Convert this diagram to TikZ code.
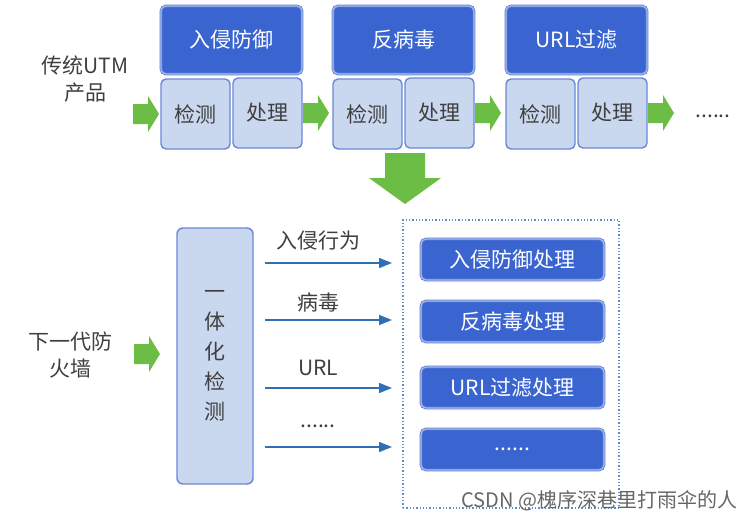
\documentclass[tikz,border=0pt]{standalone}
\usepackage{fontspec}
\setmainfont{Noto Sans CJK SC}
\usetikzlibrary{calc,arrows.meta}
\definecolor{hdblue}{HTML}{3A64CF}
\definecolor{hdedge}{HTML}{5A7BD3}
\definecolor{hdring}{HTML}{A7BAEA}
\definecolor{ltfill}{HTML}{C9D8EE}
\definecolor{ltedge}{HTML}{6A87D6}
\definecolor{grn}{HTML}{6BBD45}
\definecolor{arblue}{HTML}{2F6FB5}
\definecolor{txt}{HTML}{3F3F3F}
\tikzset{
  x=1pt,y=-1pt,
  every node/.style={inner sep=0pt,outer sep=0pt},
  hdbox/.style={draw=hdedge,double=hdring,double distance=1.2pt,line width=0.8pt,fill=hdblue,rounded corners=5pt,text=white,font=\fontsize{21}{24}\selectfont,minimum width=#1,minimum height=68pt},
  hdbox/.default=141pt,
  ltbox/.style={draw=ltedge,line width=1.4pt,fill=ltfill,rounded corners=5pt,text=txt,font=\fontsize{21}{24}\selectfont,minimum width=69pt,minimum height=70pt},
  vbox/.style={draw=ltedge,line width=1.4pt,fill=ltfill,rounded corners=6pt,text=txt,font=\fontsize{21}{24}\selectfont,minimum width=76pt,minimum height=256pt},
  pbox/.style={draw=hdedge,double=hdring,double distance=1.2pt,line width=0.8pt,fill=hdblue,rounded corners=5pt,text=white,font=\fontsize{21}{24}\selectfont,minimum width=183pt,minimum height=41pt},
  lbl/.style={text=txt,font=\fontsize{21}{27}\selectfont,align=center},
  vlbl/.style={text=txt,font=\fontsize{21}{30}\selectfont,align=center},
  barrow/.style={draw=arblue,line width=1.5pt,-{Triangle[length=13pt,width=10pt]}},
  cont/.style={draw=arblue!80,dotted,line width=1.3pt,minimum width=216pt,minimum height=288pt},
  garrowR/.pic={\fill[grn] (0,-10) -- (15,-10) -- (15,-18) -- (26,0) -- (15,18) -- (15,10) -- (0,10) -- cycle;},
  garrowD/.pic={\fill[grn] (-20,0) -- (20,0) -- (20,25) -- (36,25) -- (0,51) -- (-36,25) -- (-20,25) -- cycle;}
}
\begin{document}
\begin{tikzpicture}
\useasboundingbox (0,0) rectangle (752,522);
% top row
\node[lbl] (utm) at (85,79) {传统UTM\\产品};
\foreach \i/\x/\t in {1/161/入侵防御,2/333/反病毒,3/506/URL过滤}{
  \node[hdbox,anchor=north west] (h\i) at (\x,6) {\t};
  \node[ltbox,anchor=north west] (d\i) at (\x,79) {检测};
  \node[ltbox,anchor=north east] (p\i) at ($(h\i.south east)+(0,4)$) {处理};
}
\node[lbl] (dots) at (713,116) {......};
\pic at ($(d1.west)+(-28,0)$) {garrowR};
\pic at ($(p1.east)+(1,0)$) {garrowR};
\pic at ($(p2.east)+(1,0)$) {garrowR};
\pic at ($(p3.east)+(1,0)$) {garrowR};
% down arrow
\coordinate (dn) at (405,153);
\pic at (dn) {garrowD};
% lower part
\node[lbl] (ngfw) at (70,355) {下一代防\\火墙};
\node[vbox,anchor=north west] (det) at (177,228) {};
\node[vlbl] (dett) at (det.center) {一\\体\\化\\检\\测};
\pic at ($(det.west)+(-43,-2)$) {garrowR};
\node[cont,anchor=north west] (ct) at (403,220) {};
\node[pbox,anchor=north west] (b1) at (421,239) {入侵防御处理};
\node[pbox,anchor=north west] (b2) at (421,301) {反病毒处理};
\node[pbox,anchor=north west] (b3) at (421,367) {URL过滤处理};
\node[pbox,anchor=north west] (b4) at (421,429) {......};
\foreach \y in {263,320,388,447}{
  \draw[barrow] ($(det.east |- 0,\y)+(12,0)$) -- ($(ct.west |- 0,\y)+(-11,0)$);
}
\node[lbl] (l1) at (318,241) {入侵行为};
\node[lbl] (l2) at (318,302) {病毒};
\node[lbl] (l3) at (318,368) {URL};
\node[lbl] (l4) at (318,426) {......};
\node[text=black!60,font=\fontsize{20}{22}\selectfont,anchor=east] (wm) at (737,501) {CSDN @槐序深巷里打雨伞的人};
\end{tikzpicture}
\end{document}
